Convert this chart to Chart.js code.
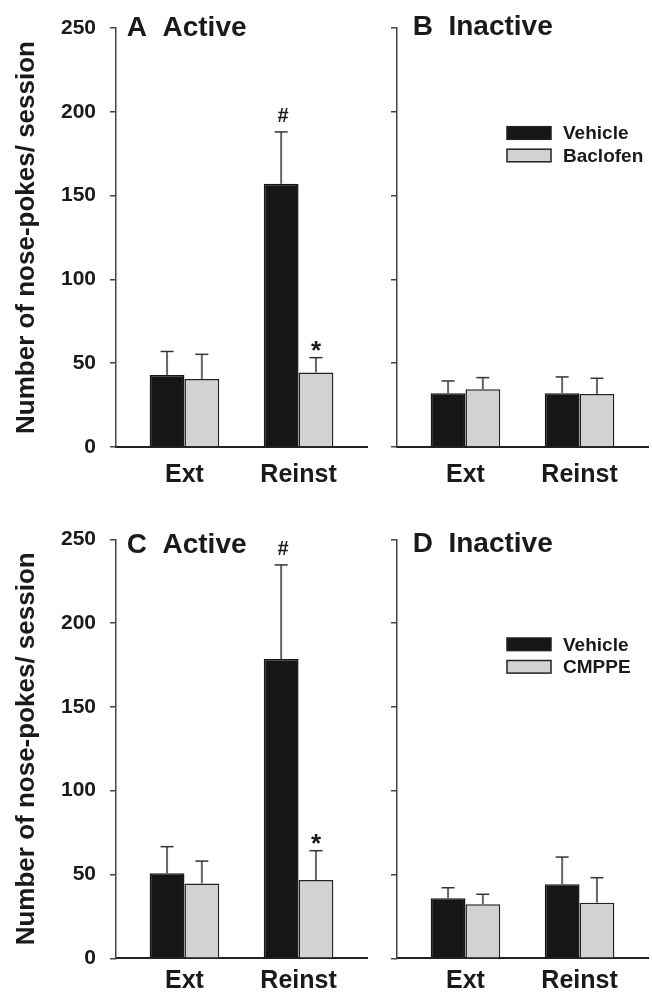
<!DOCTYPE html>
<html>
<head>
<meta charset="utf-8">
<script src="https://cdn.jsdelivr.net/npm/chart.js@4.4.1/dist/chart.umd.min.js"></script>
<style>
body { margin: 0; background: #fff; }
#wrap { position: relative; width: 652px; height: 998px; }
canvas { position: absolute; }
</style>
</head>
<body>
<div id="wrap">
  <canvas id="chartA" width="370" height="500" style="left:0px;top:0px"></canvas>
  <canvas id="chartB" width="282" height="500" style="left:370px;top:0px"></canvas>
  <canvas id="chartC" width="370" height="498" style="left:0px;top:500px"></canvas>
  <canvas id="chartD" width="282" height="498" style="left:370px;top:500px"></canvas>
</div>
<script>
const categories = ['Ext', 'Reinst'];
const yMax = 250;
const yStep = 50;

// baclofen experiment (A active, B inactive)
const vehicleA = [43, 157];
const vehicleErrA = [14, 31];
const baclofenA = [40.5, 44.5];
const baclofenErrA = [14.8, 8.8];
const vehicleB = [32, 32];
const vehicleErrB = [7.4, 9.8];
const baclofenB = [34.4, 31.6];
const baclofenErrB = [7, 9.4];

// CMPPE experiment (C active, D inactive)
const vehicleC = [50.7, 178.6];
const vehicleErrC = [15.9, 56.1];
const cmppeC = [44.7, 46.7];
const cmppeErrC = [13.3, 17.5];
const vehicleD = [35.8, 44.2];
const vehicleErrD = [6.3, 16.2];
const cmppeD = [32.2, 33.2];
const cmppeErrD = [6, 14.9];

// significance marks
const vehicleMarks = ['', '#'];
const drugMarks = ['', '*'];

const FONT = "'Liberation Sans', Arial, Helvetica, sans-serif";
const TEXT = '#1a1a1a';

function toPoints(vals) {
  return vals.map((v, i) => ({ x: i + 1, y: v }));
}

// error bars, marks, panel title, legend
const decoPlugin = {
  id: 'deco',
  afterDatasetsDraw(chart, args, o) {
    const ctx = chart.ctx;
    const y = chart.scales.y;
    const area = chart.chartArea;
    ctx.save();
    chart.data.datasets.forEach((ds, di) => {
      const meta = chart.getDatasetMeta(di);
      meta.data.forEach((bar, i) => {
        const top = y.getPixelForValue(ds.data[i].y + ds.errors[i]);
        ctx.strokeStyle = '#666';
        ctx.lineWidth = 2;
        ctx.beginPath();
        ctx.moveTo(bar.x, bar.y);
        ctx.lineTo(bar.x, top);
        ctx.stroke();
        ctx.strokeStyle = '#333';
        ctx.lineWidth = 1.5;
        ctx.beginPath();
        ctx.moveTo(bar.x - 6.5, top);
        ctx.lineTo(bar.x + 6.5, top);
        ctx.stroke();
        const m = ds.marks && ds.marks[i];
        if (m) {
          ctx.fillStyle = TEXT;
          ctx.textAlign = 'center';
          ctx.textBaseline = 'alphabetic';
          if (m === '#') {
            ctx.font = 'bold 20px ' + FONT;
            ctx.fillText(m, bar.x + 2, top - 10);
          } else {
            ctx.font = 'bold 26px ' + FONT;
            ctx.fillText(m, bar.x, top + 1);
          }
        }
      });
    });

    // panel title
    ctx.fillStyle = TEXT;
    ctx.font = 'bold 28px ' + FONT;
    ctx.textAlign = 'left';
    ctx.textBaseline = 'alphabetic';
    ctx.fillText(o.title, o.titleX, o.titleY);

    // legend
    if (o.legend) {
      const lx = area.left + 110;
      chart.data.datasets.forEach((ds, di) => {
        const cy = area.top + 105 + di * 22.5;
        ctx.fillStyle = ds.backgroundColor;
        ctx.fillRect(lx, cy - 6.3, 44, 12.6);
        ctx.strokeStyle = '#222';
        ctx.lineWidth = 1.5;
        ctx.strokeRect(lx, cy - 6.3, 44, 12.6);
        ctx.fillStyle = TEXT;
        ctx.font = 'bold 19px ' + FONT;
        ctx.textBaseline = 'middle';
        ctx.fillText(ds.label, lx + 56, cy + 1);
      });
    }
    ctx.restore();
  }
};

function makePanel(id, p) {
  return new Chart(document.getElementById(id), {
    type: 'bar',
    data: {
      datasets: [
        {
          label: 'Vehicle',
          data: toPoints(p.vehicle),
          errors: p.vehicleErr,
          marks: p.marks ? vehicleMarks : null,
          backgroundColor: '#161616',
          borderColor: '#161616',
          borderWidth: 1.5
        },
        {
          label: p.drugName,
          data: toPoints(p.drug),
          errors: p.drugErr,
          marks: p.marks ? drugMarks : null,
          backgroundColor: '#d2d2d2',
          borderColor: '#222',
          borderWidth: 1.5
        }
      ]
    },
    options: {
      responsive: false,
      animation: false,
      events: [],
      layout: { padding: { top: p.top, right: p.right, left: 0, bottom: 0 } },
      categoryPercentage: 0.61,
      barPercentage: 1.0,
      plugins: {
        legend: { display: false },
        tooltip: { enabled: false },
        deco: { title: p.title, titleX: p.titleX, titleY: p.titleY, legend: p.legend }
      },
      scales: {
        x: {
          type: 'linear',
          min: 0.4,
          max: 2.6,
          offset: false,
          afterBuildTicks: s => { s.ticks = categories.map((c, i) => ({ value: i + 1 })); },
          afterFit: s => { s.height = p.xHeight; },
          grid: { display: false, drawTicks: false, offset: false },
          border: { display: true, color: '#222', width: 2 },
          ticks: {
            padding: p.xPad,
            color: TEXT,
            font: { family: FONT, size: 25, weight: 'bold' },
            callback: v => categories[v - 1]
          }
        },
        y: {
          min: 0,
          max: yMax,
          afterFit: s => { s.width = p.yWidth; },
          grid: { drawOnChartArea: false, drawTicks: true, tickLength: 6, color: '#444', lineWidth: 1.5 },
          border: { display: true, color: '#444', width: 1.5 },
          ticks: {
            stepSize: yStep,
            padding: 14,
            color: TEXT,
            font: { family: FONT, size: 21, weight: 'bold' },
            callback: v => (p.yLabels ? v : '')
          },
          title: {
            display: p.yLabels,
            text: 'Number of nose-pokes/ session',
            color: TEXT,
            font: { family: FONT, size: 26, weight: 'bold' },
            padding: { top: 11, bottom: 0 }
          }
        }
      }
    },
    plugins: [decoPlugin]
  });
}

makePanel('chartA', {
  vehicle: vehicleA, vehicleErr: vehicleErrA, drug: baclofenA, drugErr: baclofenErrA,
  drugName: 'Baclofen', marks: true, legend: false, yLabels: true,
  title: 'A  Active', titleX: 126.7, titleY: 36,
  top: 28, right: 3, yWidth: 116, xHeight: 53, xPad: 13.5
});
makePanel('chartB', {
  vehicle: vehicleB, vehicleErr: vehicleErrB, drug: baclofenB, drugErr: baclofenErrB,
  drugName: 'Baclofen', marks: false, legend: true, yLabels: false,
  title: 'B  Inactive', titleX: 42.7, titleY: 35,
  top: 28, right: 4, yWidth: 27, xHeight: 53, xPad: 13.5
});
makePanel('chartC', {
  vehicle: vehicleC, vehicleErr: vehicleErrC, drug: cmppeC, drugErr: cmppeErrC,
  drugName: 'CMPPE', marks: true, legend: false, yLabels: true,
  title: 'C  Active', titleX: 126.7, titleY: 53,
  top: 39.3, right: 3, yWidth: 116, xHeight: 39.7, xPad: 7.5
});
makePanel('chartD', {
  vehicle: vehicleD, vehicleErr: vehicleErrD, drug: cmppeD, drugErr: cmppeErrD,
  drugName: 'CMPPE', marks: false, legend: true, yLabels: false,
  title: 'D  Inactive', titleX: 42.7, titleY: 51.7,
  top: 39.3, right: 4, yWidth: 27, xHeight: 39.7, xPad: 7.5
});
</script>
</body>
</html>
